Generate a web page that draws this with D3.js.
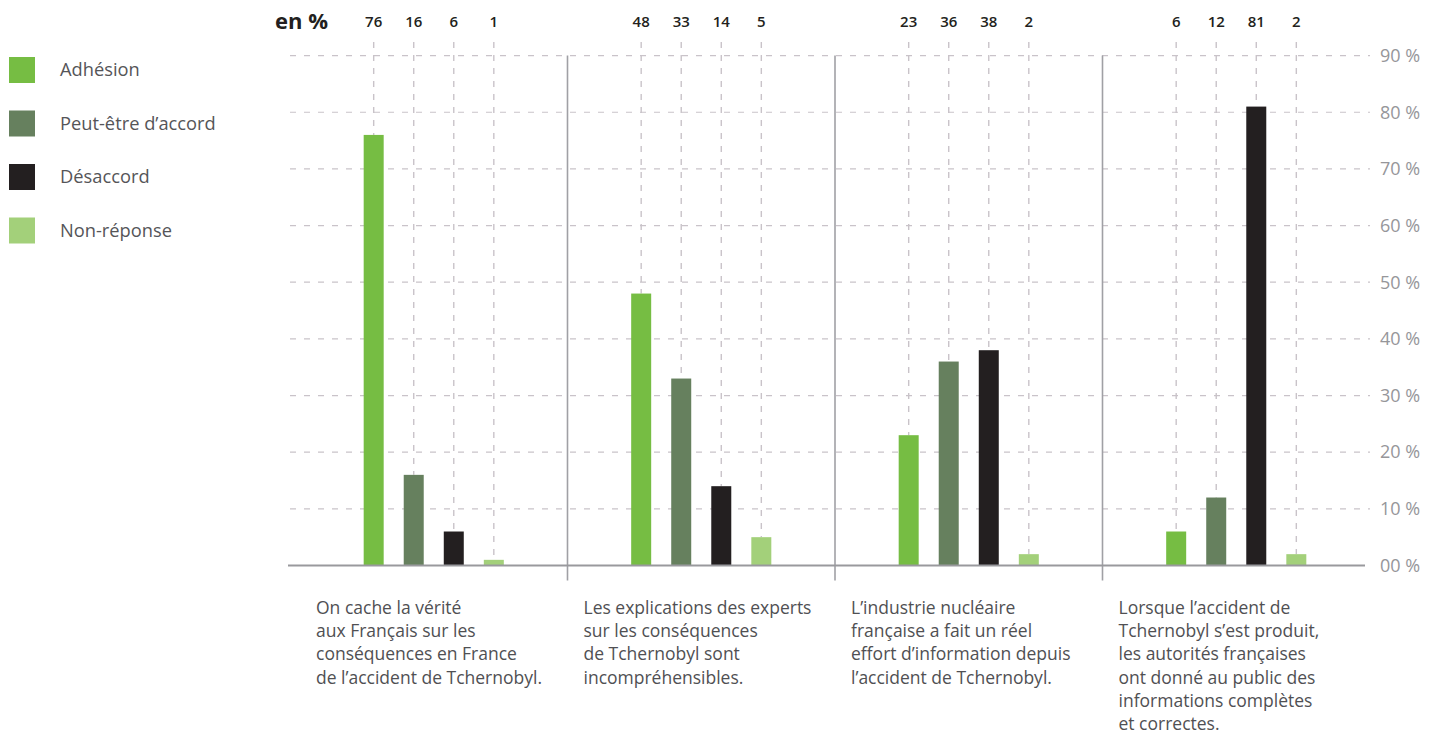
<!DOCTYPE html>
<html>
<head>
<meta charset="utf-8">
<script src="https://cdn.jsdelivr.net/npm/d3@7"></script>
<style>
  body { margin: 0; background: #fff; }
  svg { display: block; font-family: 'Open Sans', sans-serif; }
</style>
</head>
<body>
<svg></svg>
<script>
const w = 1446
const h = 738

// data
const series = ['Adhésion', 'Peut-être d’accord', 'Désaccord', 'Non-réponse']
const colors = ['#76bd43', '#66805e', '#231f20', '#a3d07a']
const statements = [
  ['On cache la vérité', 'aux Français sur les', 'conséquences en France', 'de l’accident de Tchernobyl.'],
  ['Les explications des experts', 'sur les conséquences', 'de Tchernobyl sont', 'incompréhensibles.'],
  ['L’industrie nucléaire', 'française a fait un réel', 'effort d’information depuis', 'l’accident de Tchernobyl.'],
  ['Lorsque l’accident de', 'Tchernobyl s’est produit,', 'les autorités françaises', 'ont donné au public des', 'informations complètes', 'et correctes.']
]
const values = [
  [76, 16, 6, 1],
  [48, 33, 14, 5],
  [23, 36, 38, 2],
  [6, 12, 81, 2]
]
const yTicks = [0, 10, 20, 30, 40, 50, 60, 70, 80, 90]
const yTickLabels = ['00 %', '10 %', '20 %', '30 %', '40 %', '50 %', '60 %', '70 %', '80 %', '90 %']

const svg = d3.select('svg')
  .attr('width', w)
  .attr('height', h);

const margin = {top: 55.6, bottom: 172.5}
const y = d3.scaleLinear()
  .domain([0, 90])
  .range([h - margin.bottom, margin.top])

const panelX = d3.scaleBand()
  .domain(d3.range(statements.length))
  .range([300, 1370])

const barX = d3.scalePoint()
  .domain(series)
  .range([0, panelX.bandwidth()])
  .padding(1.84)
const barW = 20

// horizontal grid
svg.append('g')
  .selectAll('line').data(yTicks.filter(d => d > 0))
  .enter().append('line')
    .attr('x1', 290).attr('x2', 1370)
    .attr('y1', d => y(d)).attr('y2', d => y(d))
    .attr('stroke', '#c9c3c9')
    .attr('stroke-width', 1.2)
    .attr('stroke-dasharray', '6,8')

// y labels
svg.append('g')
  .selectAll('text').data(yTicks)
  .enter().append('text')
    .attr('x', 1380)
    .attr('y', d => y(d))
    .attr('dy', '0.35em')
    .attr('font-size', 18)
    .attr('fill', '#96969a')
    .text((d, i) => yTickLabels[i])

const panels = svg.selectAll('g.panel').data(values)
  .enter().append('g')
    .attr('class', 'panel')
    .attr('transform', (d, i) => `translate(${panelX(i)},0)`)

// vertical dashed guides
panels.selectAll('line.guide')
  .data(d => d.map((v, j) => ({s: series[j], v})))
  .enter().append('line')
    .attr('class', 'guide')
    .attr('x1', d => barX(d.s)).attr('x2', d => barX(d.s))
    .attr('y1', 42).attr('y2', d => y(d.v))
    .attr('stroke', '#c9c3c9')
    .attr('stroke-width', 1.4)
    .attr('stroke-dasharray', '6,7')

// bars
panels.selectAll('rect')
  .data(d => d.map((v, j) => ({s: series[j], v, c: colors[j]})))
  .enter().append('rect')
    .attr('x', d => barX(d.s) - barW / 2)
    .attr('width', barW)
    .attr('y', d => y(d.v))
    .attr('height', d => y(0) - y(d.v))
    .attr('fill', d => d.c)

// value labels
panels.selectAll('text.val')
  .data(d => d.map((v, j) => ({s: series[j], v})))
  .enter().append('text')
    .attr('class', 'val')
    .attr('x', d => barX(d.s))
    .attr('y', 27)
    .attr('text-anchor', 'middle')
    .attr('font-size', 15)
    .attr('font-weight', 600)
    .attr('fill', '#231f20')
    .text(d => d.v)

// statements
panels.append('text')
    .attr('y', 614)
    .attr('font-size', 17.5)
    .attr('fill', '#505053')
  .selectAll('tspan').data((d, i) => statements[i])
  .enter().append('tspan')
    .attr('x', 16)
    .attr('dy', (d, k) => k === 0 ? 0 : 23.2)
    .text(d => d)

// separators
svg.append('g')
  .selectAll('line').data(d3.range(1, statements.length))
  .enter().append('line')
    .attr('x1', d => panelX(d)).attr('x2', d => panelX(d))
    .attr('y1', y(90)).attr('y2', y(0) + 15)
    .attr('stroke', '#a0a0a5')
    .attr('stroke-width', 1.6)

// baseline
svg.append('line')
  .attr('x1', 288).attr('x2', 1365)
  .attr('y1', y(0)).attr('y2', y(0))
  .attr('stroke', '#99999d')
  .attr('stroke-width', 2)

svg.append('text')
  .attr('x', 275).attr('y', 29)
  .attr('font-size', 22)
  .attr('font-weight', 700)
  .attr('fill', '#231f20')
  .text('en %')

// legend
const legend = svg.append('g').selectAll('g').data(series)
  .enter().append('g')
    .attr('transform', (d, i) => `translate(9,${57 + i * 53.5})`)
legend.append('rect')
  .attr('width', 26).attr('height', 26)
  .attr('fill', (d, i) => colors[i])
legend.append('text')
  .attr('x', 51).attr('y', 13)
  .attr('dy', '0.35em')
  .attr('font-size', 18.3)
  .attr('fill', '#555558')
  .text(d => d)
</script>
</body>
</html>
